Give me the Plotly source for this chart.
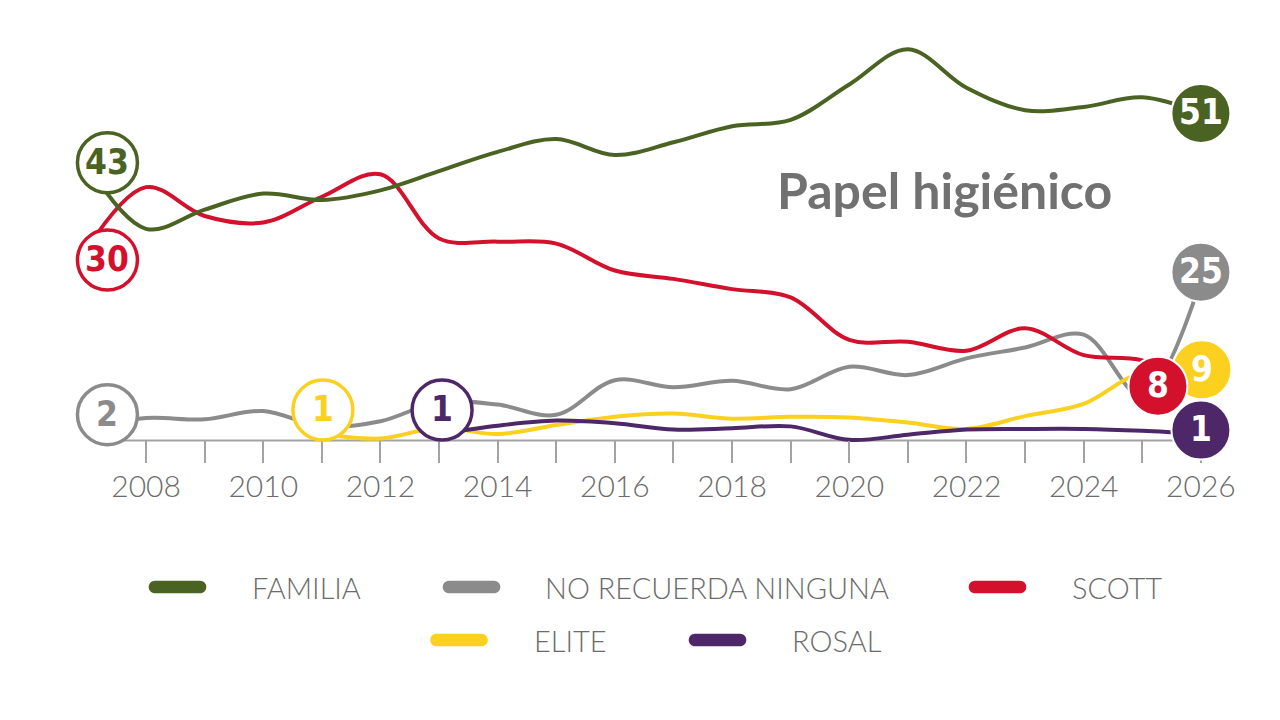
import plotly.graph_objects as go

# ---------------- data ----------------
years = list(range(2007, 2027))
familia = [43, 33, 36, 38.5, 37.5, 39, 42, 45, 47, 44.5, 46.5, 49, 50, 55.5, 61, 55, 51.5, 52, 53.5, 51]
no_recuerda = [2, 3.5, 3.3, 4.6, 2.2, 3, 6, 5.6, 4, 9.4, 8.3, 9.3, 8, 11.5, 10.2, 12.8, 14.5, 16.5, 7, 25]
scott = [30, 39.5, 35, 34, 38, 41.5, 31.5, 31, 30.7, 26.5, 25.2, 23.6, 22.3, 15.7, 15.4, 14, 17.5, 13.3, 12.5, 8]
elite_years = list(range(2011, 2027))
elite = [1, 0.3, 2, 1, 2.4, 3.7, 4.2, 3.4, 3.7, 3.6, 2.8, 1.8, 3.8, 5.7, 10.5, 9]
rosal_years = list(range(2013, 2027))
rosal = [1, 2.3, 3.1, 2.7, 1.7, 1.9, 2.2, 0.1, 0.9, 1.7, 1.8, 1.8, 1.5, 1]

tick_years = list(range(2008, 2027))
tick_labels = [str(y) if y % 2 == 0 else "" for y in tick_years]

title_text = "Papel higiénico"

# ---------------- style ----------------
GREEN = "#4b6322"
GRAY = "#8b8b8b"
RED = "#d3112d"
YELLOW = "#fbd01e"
PURPLE = "#4d2768"
TEXT = "#6b6b6b"
AXIS = "#a3a3a3"
NUM_FONT = "DejaVu Sans Condensed, Roboto, Liberation Sans, sans-serif"

W, H = 1280, 720
ML, MR, MT, MB = 64, 41, 30, 250
X_RANGE = [2006.6, 2026.65]
Y_RANGE = [-4.6, 64]


def paper_x(px):
    return (px - ML) / (W - ML - MR)


def paper_y(py):
    return (H - MB - py) / (H - MT - MB)


series = [
    ("NO RECUERDA NINGUNA", years, no_recuerda, GRAY),
    ("ELITE", elite_years, elite, YELLOW),
    ("ROSAL", rosal_years, rosal, PURPLE),
    ("SCOTT", years, scott, RED),
    ("FAMILIA", years, familia, GREEN),
]
by_name = {s[0]: s for s in series}

fig = go.Figure()
for name, xs, ys, col in series:
    fig.add_trace(go.Scatter(
        x=xs, y=ys, mode="lines", name=name,
        line=dict(color=col, width=4, shape="spline", smoothing=1),
        hoverinfo="skip", showlegend=False,
    ))

shapes = []
annotations = []

# baseline axis line
shapes.append(dict(type="line", xref="x", yref="y", x0=2007.4, x1=2026, y0=0, y1=0,
                   line=dict(color=AXIS, width=2), layer="below"))

# label circles: (series, first/last, dx px, dy px (down +), filled)
circles = [
    ("FAMILIA", 0, 20, -2, False),
    ("SCOTT", 0, 20, 12, False),
    ("NO RECUERDA NINGUNA", 0, 20, -13, False),
    ("ELITE", 0, 1, -24, False),
    ("ROSAL", 0, 3, -24, False),
    ("NO RECUERDA NINGUNA", -1, 0, -8, True),
    ("FAMILIA", -1, 0, 0, True),
    ("ELITE", -1, 1, -13, True),
    ("SCOTT", -1, -43, -3, True),
    ("ROSAL", -1, 0, -4, True),
]
for name, idx, dx, dy, filled in circles:
    _, xs, ys, col = by_name[name]
    xv, yv = xs[idx], ys[idx]
    r = 29.5 if filled else 30
    shapes.append(dict(
        type="circle", xref="x", yref="y", xsizemode="pixel", ysizemode="pixel",
        xanchor=xv, yanchor=yv, x0=dx - r, x1=dx + r, y0=-dy - r, y1=-dy + r,
        fillcolor=col if filled else "white",
        line=dict(color="white" if filled else col, width=2 if filled else 3.5),
        layer="above",
    ))
    annotations.append(dict(
        x=xv, y=yv, xref="x", yref="y", xshift=dx, yshift=-dy + 1,
        text="<b>%d</b>" % round(yv), showarrow=False,
        font=dict(family=NUM_FONT, size=35, color="white" if filled else col),
        xanchor="center", yanchor="middle",
    ))

# title
annotations.append(dict(
    x=paper_x(775), y=paper_y(190), xref="paper", yref="paper",
    text="<b>%s</b>" % title_text, showarrow=False,
    font=dict(family="Lato", size=50, color="#717171"),
    xanchor="left", yanchor="middle",
))

# manual legend
legend_items = [
    ("FAMILIA", 177.5, 250, 587),
    ("NO RECUERDA NINGUNA", 471.5, 543, 587),
    ("SCOTT", 997.5, 1070, 587),
    ("ELITE", 459, 532, 640),
    ("ROSAL", 717.5, 790, 640),
]
half, rad = 22.5, 6.3
k = rad * 0.5523
pill = ("M %.2f,%.2f L %.2f,%.2f C %.2f,%.2f %.2f,%.2f %.2f,0 C %.2f,%.2f %.2f,%.2f %.2f,%.2f "
        "L %.2f,%.2f C %.2f,%.2f %.2f,%.2f %.2f,0 C %.2f,%.2f %.2f,%.2f %.2f,%.2f Z") % (
    -half, -rad, half, -rad,
    half + k, -rad, half + rad, -k, half + rad,
    half + rad, k, half + k, rad, half, rad,
    -half, rad,
    -half - k, rad, -half - rad, k, -half - rad,
    -half - rad, -k, -half - k, -rad, -half, -rad,
)
for name, sym_x, text_x, row_y in legend_items:
    col = by_name[name][3]
    shapes.append(dict(
        type="path", xref="paper", yref="paper", xsizemode="pixel", ysizemode="pixel",
        xanchor=paper_x(sym_x), yanchor=paper_y(row_y), path=pill,
        fillcolor=col, line=dict(width=0),
    ))
    annotations.append(dict(
        x=paper_x(text_x), y=paper_y(row_y), xref="paper", yref="paper",
        text=name, showarrow=False, xanchor="left", yanchor="middle",
        font=dict(family="Lato", size=29, color=TEXT, weight=300),
    ))

fig.update_layout(
    width=W, height=H,
    margin=dict(l=ML, r=MR, t=MT, b=MB),
    paper_bgcolor="white", plot_bgcolor="white",
    showlegend=False,
    shapes=shapes, annotations=annotations,
    xaxis=dict(
        range=X_RANGE, tickmode="array", tickvals=tick_years, ticktext=tick_labels,
        ticks="outside", ticklen=22, tickwidth=2, tickcolor=AXIS,
        showline=False, showgrid=False, zeroline=False,
        anchor="free", position=(0 - Y_RANGE[0]) / (Y_RANGE[1] - Y_RANGE[0]),
        tickfont=dict(family="Lato", size=30, color=TEXT, weight=300),
        ticklabelstandoff=-2,
        fixedrange=True,
    ),
    yaxis=dict(range=Y_RANGE, visible=False, showgrid=False, zeroline=False, fixedrange=True),
)

fig.write_html("out.html", config={"displayModeBar": False})
